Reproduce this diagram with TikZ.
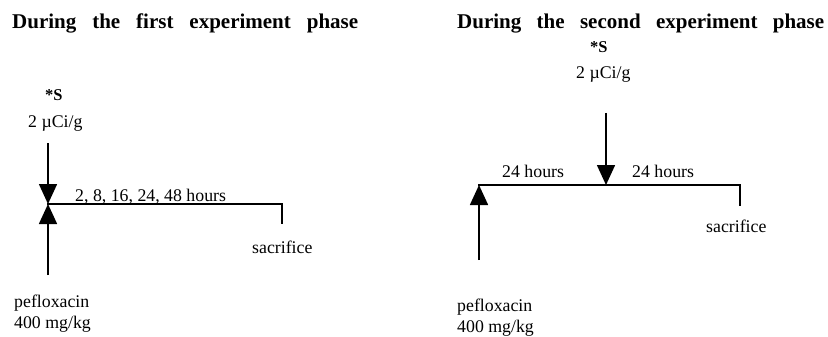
\documentclass[tikz,border=0pt]{standalone}
\usepackage{fontspec}
\setmainfont{Liberation Serif}
\usetikzlibrary{arrows.meta}
\tikzset{
  txt/.style={font=\fontsize{17.8}{20}\selectfont, inner sep=0pt, anchor=base west},
  ttl/.style={font=\fontsize{21}{24}\selectfont\bfseries, inner sep=0pt, anchor=base west},
  stxt/.style={font=\fontsize{16.5}{19}\selectfont\bfseries, inner sep=0pt, anchor=base west},
  shaft/.style={line width=1.6pt, -{Triangle[length=20pt,width=18pt]}},
  tline/.style={line width=1.4pt, line cap=rect},
}
\begin{document}
\begin{tikzpicture}[x=1pt,y=-1pt]
\useasboundingbox (0,0) rectangle (828,337);
% ---------- first phase ----------
\node[ttl] (t1) at (12,29) {\makebox[346pt][s]{During the first experiment phase}};
\node[stxt] (s1) at (45,100) {*S};
\node[txt] (d1) at (28,128) {2 µCi/g};
\node[txt] (h1) at (75,201) {2, 8, 16, 24, 48 hours};
\node[txt] (sac1) at (252,253) {sacrifice};
\node[txt] (p1) at (14,307) {pefloxacin};
\node[txt] (m1) at (14,328) {400 mg/kg};
\coordinate (a1top) at (48,143);
\coordinate (a1mid) at (48,204);
\coordinate (a1bot) at (48,275);
\coordinate (e1) at (282,204);
\coordinate (e1d) at (282,223);
\draw[shaft] (a1top) -- (a1mid);
\draw[shaft] (a1bot) -- (a1mid);
\draw[tline] (a1mid) -- (e1) -- (e1d);
% ---------- second phase ----------
\node[ttl] (t2) at (457,29) {\makebox[367pt][s]{During the second experiment phase}};
\node[stxt] (s2) at (590,53) {*S};
\node[txt] (d2) at (576,78) {2 µCi/g};
\node[txt] (h2a) at (502,177) {24 hours};
\node[txt] (h2b) at (632,177) {24 hours};
\node[txt] (sac2) at (706,232) {sacrifice};
\node[txt] (p2) at (457,311) {pefloxacin};
\node[txt] (m2) at (457,332) {400 mg/kg};
\coordinate (a2top) at (606,113);
\coordinate (a2tip) at (606,185);
\coordinate (b2bot) at (479,260);
\coordinate (b2tip) at (479,185);
\coordinate (e2) at (740,185);
\coordinate (e2d) at (740,205);
\draw[shaft] (a2top) -- (a2tip);
\draw[shaft] (b2bot) -- (b2tip);
\draw[tline] (b2tip) -- (e2) -- (e2d);
\end{tikzpicture}
\end{document}
